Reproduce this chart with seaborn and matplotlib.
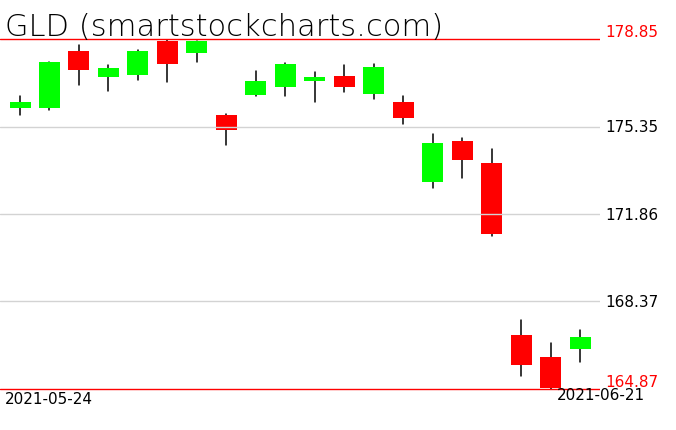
# plot.py
# GLD daily candlesticks, 2021-05-24 .. 2021-06-21, styled like smartstockcharts

import matplotlib
matplotlib.use("Agg")
import matplotlib.pyplot as plt
import matplotlib.transforms as mtransforms
import seaborn as sns
import pandas as pd

# --- data ---
dates = ["2021-05-24", "2021-05-25", "2021-05-26", "2021-05-27", "2021-05-28",
         "2021-06-01", "2021-06-02", "2021-06-03", "2021-06-04", "2021-06-07",
         "2021-06-08", "2021-06-09", "2021-06-10", "2021-06-11", "2021-06-14",
         "2021-06-15", "2021-06-16", "2021-06-17", "2021-06-18", "2021-06-21"]
opens  = [176.09, 176.09, 178.37, 177.34, 177.42, 178.77, 178.30, 175.81, 176.63, 176.94,
          177.18, 177.37, 176.67, 176.33, 173.15, 174.78, 173.90, 167.03, 166.15, 166.48]
closes = [176.33, 177.93, 177.62, 177.69, 178.37, 177.86, 178.77, 175.23, 177.17, 177.85,
          177.33, 176.94, 177.73, 175.71, 174.70, 174.03, 171.07, 165.84, 164.91, 166.95]
highs  = [176.57, 177.95, 178.61, 177.81, 178.41, 178.81, 178.78, 175.84, 177.57, 177.89,
          177.53, 177.81, 177.85, 176.57, 175.06, 174.90, 174.46, 167.63, 166.71, 167.23]
lows   = [175.83, 176.03, 177.02, 176.78, 177.22, 177.14, 177.94, 174.63, 176.59, 176.59,
          176.35, 176.75, 176.47, 175.47, 172.91, 173.31, 171.00, 165.40, 164.87, 165.96]

# price levels printed on the right (first and last are the range limits, drawn red)
levels = [178.85, 175.35, 171.86, 168.37, 164.87]
title = "GLD (smartstockcharts.com)"

sns.set_style("white")
plt.rcParams["font.family"] = ["DejaVu Sans"]
plt.rcParams["text.color"] = "black"

fig = plt.figure(figsize=(6.76, 4.31), dpi=100)
# plot area: pixel columns 0..600 of the 676 wide picture
ax = fig.add_axes([0, 0, 600 / 676, 1])

n = len(dates)
idx = list(range(n))

# map the price range onto pixel rows 40..390 of 431
top, bot = levels[0], levels[-1]
ppu = 350 / (top - bot)
ax.set_ylim(bot - 41 / ppu, top + 40 / ppu)
# candle centres at px 20 .. 580
step = 560 / (n - 1)
ax.set_xlim(-20 / step, 580 / step)

# wicks (drawn with seaborn, one short line per day)
wick_df = pd.DataFrame({
    "day": idx + idx,
    "price": lows + highs,
})
sns.lineplot(data=wick_df, x="day", y="price", units="day", estimator=None,
             color="black", linewidth=1.1, ax=ax, legend=False, zorder=1)

# bodies
for i in idx:
    o, c = opens[i], closes[i]
    color = "#00ff00" if c >= o else "#ff0000"
    ax.bar(i, abs(c - o), bottom=min(o, c), width=21 / step,
           color=color, linewidth=0, zorder=2)

# horizontal level lines sit on top of the candles
for k, lv in enumerate(levels):
    edge = k == 0 or k == len(levels) - 1
    ax.axhline(lv, color="#ff0000" if edge else "#d3d3d3", linewidth=1, zorder=3)

# right side price labels
trans = mtransforms.blended_transform_factory(ax.transAxes, ax.transData)
for k, lv in enumerate(levels):
    edge = k == 0 or k == len(levels) - 1
    ax.text(605 / 600, lv, f"{lv:.2f}", transform=trans, clip_on=False,
            color="#ff0000" if edge else "black", fontsize=11,
            va="bottom" if edge else "center", ha="left")

# first / last date
fig.text(5 / 676, 1 - 400 / 431, dates[0], fontsize=11, va="center", ha="left")
fig.text(645 / 676, 1 - 396 / 431, dates[-1], fontsize=11, va="center", ha="right")

# title
fig.text(5 / 676, 1 - 28 / 431, title, fontsize=22, fontweight=200,
         family=["DejaVu Sans"], va="center", ha="left")

ax.set_xlabel("")
ax.set_ylabel("")
ax.set_xticks([])
ax.set_yticks([])
for s in ax.spines.values():
    s.set_visible(False)

fig.savefig("out.png", dpi=100)
